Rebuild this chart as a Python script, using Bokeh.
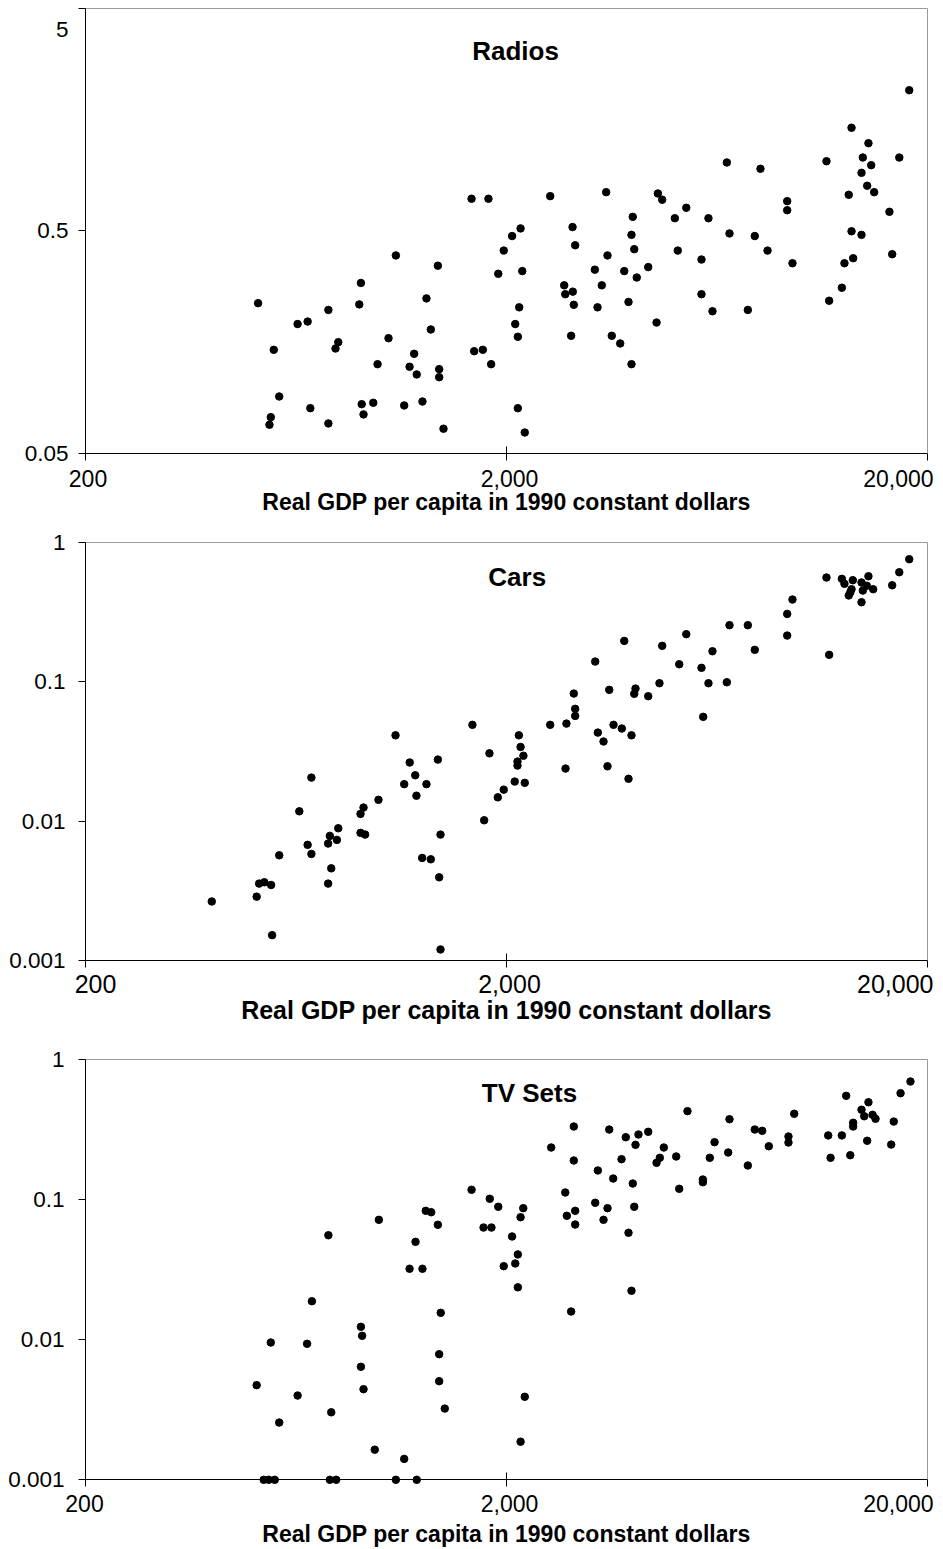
from bokeh.plotting import figure
from bokeh.layouts import column
from bokeh.models import FixedTicker, Label, LogAxis
from bokeh.embed import file_html
from bokeh.resources import INLINE
import math

FONT = "Liberation Sans"

x_ticks = [200, 2000, 20000]
x_tick_labels = ["200", "2,000", "20,000"]
x_title = "Real GDP per capita in 1990 constant dollars"

radio_ticks = [0.05, 0.5, 5]
radio_tick_labels = ["0.05", "0.5", "5"]
share_ticks = [0.001, 0.01, 0.1, 1]
share_tick_labels = ["0.001", "0.01", "0.1", "1"]

radio_gdp = [1652, 1812, 2540, 2870, 2912, 2160, 2062, 1970, 1092, 1374, 1912, 2180, 902, 2742, 2758,
             2874, 2890, 514, 894, 1291, 755, 2144, 638, 674, 2098, 1322, 797, 785, 1049, 2128, 2848,
             560, 1207, 1676, 1757, 988, 1839, 1177, 1384, 1224, 1384, 577, 684, 906, 965, 1143, 1263,
             2128, 551, 547, 915, 755, 1417, 2210, 18100, 13200, 14480, 14040, 14700, 17140, 13940,
             14380, 14940, 13000, 11510, 6674, 8022, 3450, 4577, 4687, 5346, 3990, 5022, 6036, 9285,
             9285, 16240, 3962, 6772, 7776, 13200, 13940, 4022, 5104, 8338, 3475, 5810, 9556, 12700,
             13320, 16490, 3242, 3808, 4342, 4078, 3368, 5810, 3898, 3290, 6170, 7486, 12520, 11680,
             4544, 3557, 3725, 3962]
radio_val = [0.697, 0.697, 0.716, 0.520, 0.431, 0.513, 0.474, 0.408, 0.388, 0.349, 0.321, 0.330, 0.292,
             0.285, 0.260, 0.267, 0.233, 0.237, 0.234, 0.249, 0.221, 0.227, 0.191, 0.196, 0.191, 0.1806,
             0.1584, 0.1484, 0.1651, 0.1675, 0.1692, 0.1464, 0.1405, 0.1443, 0.1464, 0.1262, 0.1262,
             0.1229, 0.1199, 0.1135, 0.1103, 0.0904, 0.0801, 0.0835, 0.0847, 0.0824, 0.0858, 0.0801,
             0.0730, 0.0675, 0.0751, 0.0684, 0.0648, 0.0623, 2.139, 1.451, 1.237, 1.067, 0.986, 1.067,
             0.911, 0.797, 0.746, 0.726, 1.027, 1.014, 0.950, 0.746, 0.736, 0.690, 0.635, 0.578, 0.570,
             0.570, 0.680, 0.619, 0.609, 0.480, 0.487, 0.474, 0.498, 0.480, 0.414, 0.408, 0.408, 0.388,
             0.372, 0.358, 0.358, 0.377, 0.393, 0.335, 0.330, 0.344, 0.309, 0.285, 0.260, 0.240, 0.227,
             0.218, 0.221, 0.278, 0.243, 0.194, 0.1692, 0.1563, 0.1262]

car_gdp = [2890, 2912, 2912, 2776, 2540, 1660, 1090, 2140, 2160, 2194, 1822, 2124, 2124, 2762, 1178,
           1374, 1214, 1143, 1291, 1222, 688, 2092, 2210, 1970, 1907, 993, 915, 900, 644, 1770, 797,
           761, 791, 754, 900, 923, 1394, 674, 688, 577, 1261, 1322, 767, 1384, 517, 532, 552, 754,
           510, 399, 555, 1394, 18100, 17140, 16490, 11510, 12520, 12700, 13290, 14480, 13940, 14350,
           14860, 14040, 13200, 13110, 13000, 13940, 9556, 9285, 9285, 11680, 6772, 7486, 7776, 5346,
           3808, 4687, 6170, 3249, 5144, 5810, 4617, 6036, 6674, 3508, 4050, 4022, 4342, 5865, 3591,
           3758, 3962, 3296, 3400, 3475, 3898]
car_val = [0.0821, 0.0638, 0.0568, 0.0500, 0.0490, 0.0490, 0.0412, 0.0412, 0.0340, 0.0294, 0.0306,
           0.0267, 0.0250, 0.0238, 0.0263, 0.0276, 0.0213, 0.0184, 0.0184, 0.0152, 0.0205, 0.0192,
           0.0188, 0.0168, 0.0148, 0.0142, 0.0125, 0.01126, 0.01175, 0.01013, 0.00888, 0.00783,
           0.00733, 0.00690, 0.00823, 0.00800, 0.00800, 0.00675, 0.00581, 0.00568, 0.00544, 0.00532,
           0.00458, 0.00395, 0.00356, 0.00364, 0.00348, 0.00356, 0.00287, 0.00265, 0.00152, 0.00120,
           0.755, 0.609, 0.491, 0.558, 0.546, 0.503, 0.534, 0.570, 0.514, 0.487, 0.460, 0.450, 0.460,
           0.436, 0.415, 0.371, 0.388, 0.306, 0.214, 0.1557, 0.254, 0.254, 0.169, 0.219, 0.196,
           0.1806, 0.1652, 0.1393, 0.1332, 0.1256, 0.0974, 0.0974, 0.0990, 0.0873, 0.0892, 0.0818,
           0.0786, 0.0559, 0.0490, 0.0461, 0.0412, 0.0431, 0.0372, 0.0247, 0.0201]

tv_gdp = [2890, 2554, 2890, 2758, 2782, 2912, 2912, 1652, 1825, 1912, 2192, 2160, 1764, 1842, 2062,
          2128, 2098, 1970, 2128, 995, 1286, 1325, 1374, 755, 1216, 1177, 1263, 2848, 1396, 690, 902,
          908, 551, 672, 1384, 902, 510, 1384, 915, 638, 2210, 1427, 767, 577, 2160, 973, 1143, 530,
          545, 563, 761, 788, 1092, 1224, 18220, 17260, 16630, 16400, 12820, 14480, 13940, 14150,
          14810, 15050, 13320, 13320, 14380, 11620, 12520, 11770, 13110, 9648, 9350, 9350, 7776,
          8098, 8396, 6772, 6240, 6724, 6080, 7486, 5382, 5854, 5854, 5144, 5060, 4728, 4626, 4544,
          4342, 4116, 3840, 4050, 3508, 3752, 3296, 3585, 3990, 3249, 3475, 4022, 3400, 3898, 3962]
tv_val = [0.331, 0.2345, 0.1894, 0.1120, 0.0764, 0.0829, 0.0662, 0.1171, 0.1010, 0.0886, 0.0866,
          0.0746, 0.0630, 0.0630, 0.0544, 0.0405, 0.0349, 0.0334, 0.0236, 0.0715, 0.0829, 0.0810,
          0.0659, 0.0555, 0.0498, 0.0320, 0.0320, 0.01586, 0.01552, 0.01878, 0.01234, 0.01064,
          0.00953, 0.00933, 0.00787, 0.00640, 0.00473, 0.00505, 0.00443, 0.00399, 0.00391, 0.00322,
          0.00303, 0.00256, 0.00187, 0.00164, 0.00141, 0.001, 0.001, 0.001, 0.001, 0.001, 0.001,
          0.001, 0.693, 0.572, 0.359, 0.246, 0.548, 0.493, 0.436, 0.392, 0.401, 0.376, 0.352, 0.331,
          0.262, 0.286, 0.286, 0.198, 0.2066, 0.408, 0.281, 0.2545, 0.315, 0.3085, 0.2395, 0.373,
          0.256, 0.216, 0.198, 0.1745, 0.426, 0.1386, 0.1326, 0.1190, 0.2023, 0.2345, 0.198,
          0.1824, 0.3035, 0.2904, 0.2778, 0.245, 0.315, 0.1935, 0.1608, 0.1409, 0.1298, 0.0946,
          0.0866, 0.0886, 0.0715, 0.0578, 0.0223]

# ---- layout (pixels) ----
W = 943
AX_LEFT, AX_RIGHT = 85.0, 927.0           # plot-area left / right edge
PX_PER_DEC_X = (AX_RIGHT - AX_LEFT) / 2.0  # two decades 200..20000


def text_label(x, y, text, dx, dy, align, size, bold=False):
    return Label(x=x, y=y, x_offset=dx, y_offset=dy, text=text, text_align=align,
                 text_baseline="middle", text_font=FONT,
                 text_font_style="bold" if bold else "normal",
                 text_font_size=size, text_color="black")


def make_panel(title, gdp, val, y_ticks, y_labels, height, area_top, area_bot,
               title_dx, title_dy, xfont, tick_dx200, tick_lab_dy, xtitle_dy, ylab_dx,
               top_label_dy=None):
    y_lo, y_hi = y_ticks[0], y_ticks[-1]
    decades = math.log10(y_hi) - math.log10(y_lo)
    ppd = (area_bot - area_top) / decades
    y_start = 10 ** (math.log10(y_lo) - (height - area_bot) / ppd)
    y_end = 10 ** (math.log10(y_hi) + area_top / ppd)
    x_start = 10 ** (math.log10(x_ticks[0]) - AX_LEFT / PX_PER_DEC_X)
    x_end = 10 ** (math.log10(x_ticks[-1]) + (W - AX_RIGHT) / PX_PER_DEC_X)

    p = figure(x_axis_type="log", y_axis_type="log", x_range=(x_start, x_end),
               y_range=(y_start, y_end), frame_width=W, frame_height=height,
               min_border=0, output_backend="svg", toolbar_location=None,
               background_fill_color="white", border_fill_color="white",
               outline_line_color=None)
    p.grid.visible = False

    xa = p.xaxis[0]
    xa.ticker = FixedTicker(ticks=x_ticks, minor_ticks=[])
    xa.fixed_location = y_lo
    xa.bounds = (x_ticks[0], x_ticks[-1])
    xa.major_tick_in = 7
    xa.major_tick_out = 7
    xa.minor_tick_line_color = None
    xa.major_label_text_color = None
    xa.axis_line_color = "black"
    xa.major_tick_line_color = "black"

    ya = p.yaxis[0]
    ya.ticker = FixedTicker(ticks=y_ticks, minor_ticks=[])
    ya.fixed_location = x_ticks[0]
    ya.bounds = (y_lo, y_hi)
    ya.major_tick_in = 0
    ya.major_tick_out = 7
    ya.minor_tick_line_color = None
    ya.major_label_text_color = None
    ya.axis_line_color = "black"
    ya.major_tick_line_color = "black"

    # grey top and right borders of the plot area
    top_axis = LogAxis(fixed_location=y_hi, bounds=(x_ticks[0], x_ticks[-1]),
                       ticker=FixedTicker(ticks=[], minor_ticks=[]),
                       axis_line_color="#9a9a9a", major_tick_line_color=None,
                       minor_tick_line_color=None, major_label_text_color=None)
    right_axis = LogAxis(fixed_location=x_ticks[-1], bounds=(y_lo, y_hi),
                         ticker=FixedTicker(ticks=[], minor_ticks=[]),
                         axis_line_color="#9a9a9a", major_tick_line_color=None,
                         minor_tick_line_color=None, major_label_text_color=None)
    p.add_layout(top_axis, "above")
    p.add_layout(right_axis, "right")

    p.scatter(gdp, val, size=7.5, marker="circle", fill_color="black", line_color="black")

    # y tick labels
    for t, lab in zip(y_ticks, y_labels):
        dy = 0
        if t == y_hi and top_label_dy is not None:
            dy = top_label_dy
        p.add_layout(text_label(x_ticks[0], t, lab, ylab_dx, dy, "right", "22.5px"))

    # panel title inside the plot area
    p.add_layout(text_label(2000, y_hi, title, title_dx, title_dy, "center", "26px", bold=True))

    # x tick labels
    aligns = ["center", "center", "right"]
    dxs = [tick_dx200, 3, 6]
    for t, lab, al, dx in zip(x_ticks, x_tick_labels, aligns, dxs):
        p.add_layout(text_label(t, y_lo, lab, dx, tick_lab_dy, al, xfont))

    # x axis title
    p.add_layout(text_label(2000, y_lo, x_title, 0, xtitle_dy, "center", xfont, bold=True))
    return p


# panel 1: canvas 0..518, plot area 7.5..453.3
p1 = make_panel("Radios", radio_gdp, radio_val, radio_ticks, radio_tick_labels, 518, 7.5, 453.3,
                9, -42.5, "23px", 2.5, -24.2, -48, -17, top_label_dy=-21.2)
# panel 2: canvas 518..1030, plot area 541.7..960
p2 = make_panel("Cars", car_gdp, car_val, share_ticks, share_tick_labels, 512, 23.7, 442,
                10.7, -35, "25px", 10, -23, -49.5, -20)
# panel 3: canvas 1030..1549, plot area 1058.7..1479.3
p3 = make_panel("TV Sets", tv_gdp, tv_val, share_ticks, share_tick_labels, 519, 28.7, 449.3,
                23, -33.8, "23px", -1, -23.2, -54, -21)

layout = column(p1, p2, p3, spacing=0)
open("out.html", "w").write(file_html(layout, INLINE))
